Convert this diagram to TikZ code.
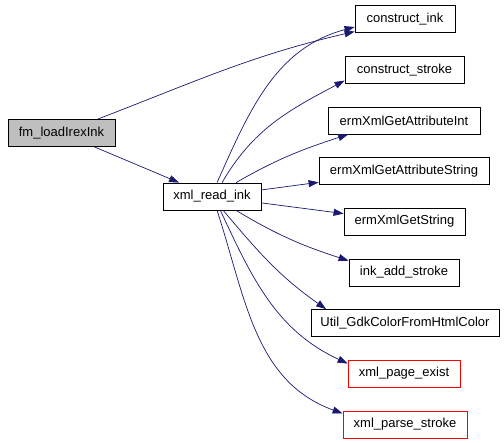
\documentclass[tikz,border=0pt]{standalone}
\usepackage{fontspec}
\setmainfont{Liberation Sans}
\usetikzlibrary{arrows.meta}
\definecolor{edgeNavy}{RGB}{25,25,112}
\definecolor{callerGray}{RGB}{191,191,191}
\definecolor{warnRed}{RGB}{255,0,0}

\begin{document}
\begin{tikzpicture}[x=1pt,y=1pt,
  fn/.style={draw=black,line width=0.8pt,minimum height=27pt,inner sep=0pt,
    font=\fontsize{13}{15}\selectfont},
  call/.style={edgeNavy,line width=0.7pt,-{Triangle[length=10pt,width=7pt]}}]
  \useasboundingbox (0,0) rectangle (504,443);
  % appelant et fonction intermediaire
  \node[fn,fill=callerGray,minimum width=107pt] (fm) at (61.5,310) {fm\_loadIrexInk};
  \node[fn,minimum width=98pt] (xri) at (212,246.5) {xml\_read\_ink};
  % fonctions appelees
  \node[fn,minimum width=100pt] (ci) at (405,424) {construct\_ink};
  \node[fn,minimum width=119pt] (cs) at (404.5,373) {construct\_stroke};
  \node[fn,minimum width=152pt] (egai) at (404,322.5) {ermXmlGetAttributeInt};
  \node[fn,minimum width=170pt] (egas) at (404,272) {ermXmlGetAttributeString};
  \node[fn,minimum width=121pt] (egs) at (404.5,221.5) {ermXmlGetString};
  \node[fn,minimum width=110pt] (ias) at (404,170.5) {ink\_add\_stroke};
  \node[fn,minimum width=188pt] (util) at (405,120) {Util\_GdkColorFromHtmlColor};
  \node[fn,draw=warnRed,minimum width=112pt] (xpe) at (404,69.5) {xml\_page\_exist};
  \node[fn,draw=warnRed,minimum width=124pt] (xps) at (405,18.5) {xml\_parse\_stroke};
  % appels
  \draw[call] (fm) to[out=21,in=193] (ci.194);
  \draw[call] (fm) -- (xri);
  \draw[call] (xri.70) to[out=66,in=195] (ci.189);
  \draw[call] (xri.54) to[out=60,in=208] (cs.190);
  \draw[call] (xri.30) to[out=30,in=198] (egai.194);
  \draw[call] (xri) -- (egas);
  \draw[call] (xri) -- (egs);
  \draw[call] (xri.-30) to[out=-31,in=162] (ias.168);
  \draw[call] (xri.-51) to[out=-50,in=145] (util.170);
  \draw[call] (xri.-59) to[out=-65,in=155] (xpe.170);
  \draw[call] (xri.-70) to[out=-72,in=160] (xps.170);
\end{tikzpicture}
\end{document}
